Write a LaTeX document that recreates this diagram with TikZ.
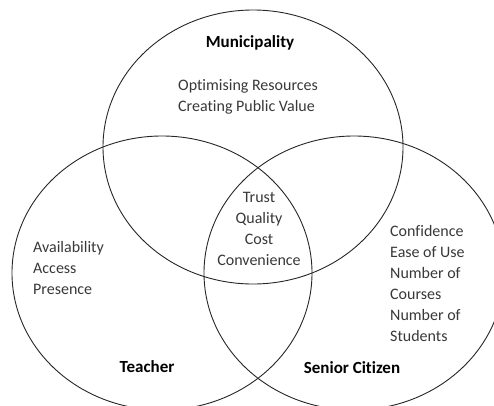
\documentclass[tikz,border=0pt]{standalone}
\usepackage{fontspec}
\setmainfont[Ligatures=NoCommon]{Carlito}
\begin{document}
\begin{tikzpicture}[x=1pt,y=-1pt,
  ring/.style={draw=black!85,line width=0.9pt},
  txt/.style={inner sep=0pt,text=black!78,font=\fontsize{16}{21}\selectfont},
  ttl/.style={inner sep=0pt,text=black,font=\fontsize{17}{20}\selectfont\bfseries}]
\clip (0,0) rectangle (494,405);
\draw[ring] (253,147) ellipse [x radius=150, y radius=137];
\draw[ring] (162,273) ellipse [x radius=150, y radius=137];
\draw[ring] (354,273) ellipse [x radius=150, y radius=137];
\node[ttl] (mun) at (250,43) {Municipality};
\node[ttl] (tea) at (147,367) {Teacher};
\node[ttl] (sen) at (352,368) {Senior Citizen};
\node[txt,anchor=west,align=left] (munv) at (178,96.5) {Optimising Resources\\Creating Public Value};
\node[txt,align=center] (core) at (259,228.5) {Trust\\Quality\\Cost\\Convenience};
\node[txt,anchor=west,align=left] (teav) at (33,268) {Availability\\Access\\Presence};
\node[txt,anchor=west,align=left] (senv) at (390,283) {Confidence\\Ease of Use\\Number of\\Courses\\Number of\\Students};
\end{tikzpicture}
\end{document}
